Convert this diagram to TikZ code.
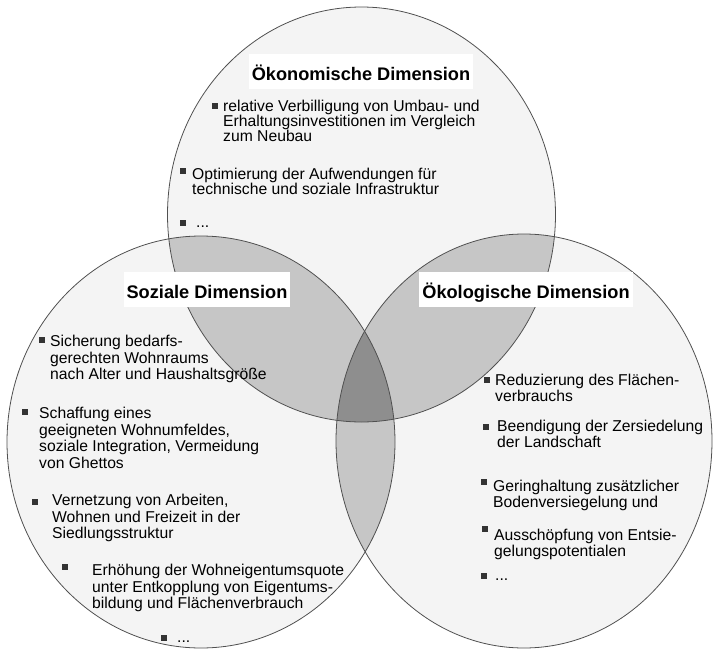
\documentclass[tikz,border=0pt]{standalone}
\usepackage{fontspec}
\setmainfont{Liberation Sans}

\definecolor{inner}{HTML}{F4F4F4}
\definecolor{lens}{HTML}{C6C6C6}
\definecolor{core}{HTML}{8E8E8E}
\definecolor{rim}{HTML}{505050}

\newcommand\oekpath{(oek) ellipse [x radius=194, y radius=207.5]}
\newcommand\sozpath{(soz) ellipse [x radius=194, y radius=206]}
\newcommand\ecopath{(eco) ellipse [x radius=188, y radius=207]}

\tikzset{
  dimtitle/.style={fill=white, anchor=base, inner xsep=3pt, inner ysep=4pt,
    text height=22pt, text depth=5pt, font=\fontsize{18.2}{20}\selectfont\bfseries},
  item/.style={anchor=north west, inner sep=0pt, align=left, yshift=13pt,
    execute at begin node={\rule{0pt}{13pt}}, font=\fontsize{15.7}{#1}\selectfont},
  item/.default=16,
  bul/.style={fill=black!80, minimum size=5.5pt, inner sep=0pt}
}

\begin{document}
\begin{tikzpicture}[x=1pt,y=-1pt]
  \useasboundingbox (0,0) rectangle (713,651);

  \coordinate (oek) at (361.5,214.5);
  \coordinate (soz) at (201,442);
  \coordinate (eco) at (524,441);

  \fill[inner] \oekpath;
  \fill[inner] \sozpath;
  \fill[inner] \ecopath;

  \begin{scope}
    \clip \oekpath;
    \fill[lens] \sozpath;
    \fill[lens] \ecopath;
  \end{scope}
  \begin{scope}
    \clip \sozpath;
    \fill[lens] \ecopath;
  \end{scope}
  \begin{scope}
    \clip \oekpath;
    \clip \sozpath;
    \fill[core] \ecopath;
  \end{scope}

  \begin{scope}[rim, line width=0.8pt]
    \draw \oekpath;
    \draw \sozpath;
    \draw \ecopath;
  \end{scope}

  \node[dimtitle] (toek) at (361,80)  {Ökonomische Dimension};
  \node[dimtitle] (tsoz) at (207,298) {Soziale Dimension};
  \node[dimtitle] (teco) at (526,298) {Ökologische Dimension};

  \begin{scope}[every node/.style={item=15}]
    \node (o1) at (223,113) {relative Verbilligung von Umbau- und\\Erhaltungsinvestitionen im Vergleich\\zum Neubau};
    \node (o2) at (192,181) {Optimierung der Aufwendungen für\\technische und soziale Infrastruktur};
    \node (o3) at (196,227) {...};
  \end{scope}

  \begin{scope}[every node/.style={item=16.7}]
    \node (s1) at (50,348)  {Sicherung bedarfs-\\gerechten Wohnraums\\nach Alter und Haushaltsgröße};
    \node (s2) at (39,420)  {Schaffung eines\\geeigneten Wohnumfeldes,\\soziale Integration, Vermeidung\\von Ghettos};
    \node (s3) at (52,507)  {Vernetzung von Arbeiten,\\Wohnen und Freizeit in der\\Siedlungsstruktur};
    \node (s4) at (92,577)  {Erhöhung der Wohneigentumsquote\\unter Entkopplung von Eigentums-\\bildung und Flächenverbrauch};
    \node (s5) at (177,642) {...};
  \end{scope}

  \begin{scope}[every node/.style={item=15.5}]
    \node (e1) at (495,387) {Reduzierung des Flächen-\\verbrauchs};
    \node (e2) at (497,433) {Beendigung der Zersiedelung\\der Landschaft};
    \node (e3) at (493,493) {Geringhaltung zusätzlicher\\Bodenversiegelung und};
    \node (e4) at (494,542) {Ausschöpfung von Entsie-\\gelungspotentialen};
    \node (e5) at (495,580) {...};
  \end{scope}

  \begin{scope}[every node/.style={bul}]
    \node (o1b) at (215,106) {};
    \node (o2b) at (183,171) {};
    \node (o3b) at (183,223) {};
    \node (s1b) at (42,340)  {};
    \node (s2b) at (25,412)  {};
    \node (s3b) at (35,502)  {};
    \node (s4b) at (65,567)  {};
    \node (s5b) at (164,638) {};
    \node (e1b) at (487,380) {};
    \node (e2b) at (486,427) {};
    \node (e3b) at (484,482) {};
    \node (e4b) at (485,529) {};
    \node (e5b) at (484,576) {};
  \end{scope}

\end{tikzpicture}
\end{document}
